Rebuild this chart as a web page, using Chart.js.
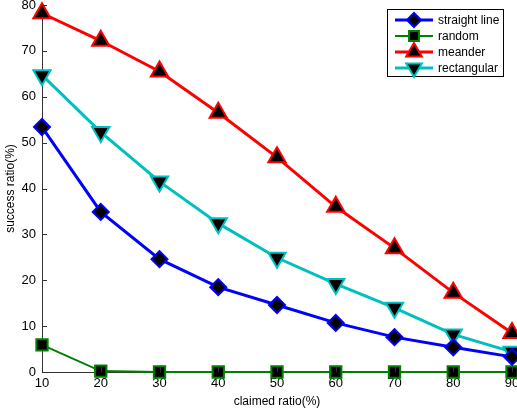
<!DOCTYPE html>
<html>
<head>
<meta charset="utf-8">
<script src="https://cdn.jsdelivr.net/npm/chart.js@4/dist/chart.umd.min.js"></script>
<style>
  html, body { margin: 0; padding: 0; background: #fff; }
  #wrap { width: 517px; height: 412px; }
</style>
</head>
<body>
<div id="wrap"><canvas id="chart"></canvas></div>
<script>
const claimed = [10, 20, 30, 40, 50, 60, 70, 80, 90];
const straightLine = [53.4, 34.9, 24.6, 18.5, 14.6, 10.7, 7.6, 5.4, 3.3];
const randomWalk = [5.9, 0.2, 0, 0, 0, 0, 0, 0, 0];
const meander = [78.2, 72.2, 65.5, 56.5, 46.8, 36.0, 27.0, 17.3, 8.5];
const rectangular = [64.7, 52.3, 41.5, 32.4, 24.9, 19.2, 14.0, 8.2, 4.4];
const yTicks = [0, 10, 20, 30, 40, 50, 60, 70, 80];

const font = 'Liberation Sans, Arial, Helvetica, sans-serif';

function series(label, values, color, style, radius, lineWidth, rotation) {
  return {
    label,
    data: values.map((v, i) => ({ x: claimed[i], y: v })),
    borderColor: color,
    backgroundColor: color,
    borderWidth: lineWidth,
    pointStyle: style,
    pointRadius: radius,
    pointHoverRadius: radius,
    pointRotation: rotation || 0,
    pointBackgroundColor: '#000',
    pointBorderColor: color,
    pointBorderWidth: 2,
    tension: 0,
    clip: false
  };
}

// MATLAB-style inward ticks
const inwardTicks = {
  id: 'inwardTicks',
  afterDatasetsDraw(chart) {
    const { ctx, chartArea: a, scales: { x, y } } = chart;
    ctx.save();
    ctx.strokeStyle = '#333';
    ctx.lineWidth = 1;
    ctx.beginPath();
    claimed.forEach((v) => {
      const px = Math.round(x.getPixelForValue(v)) + 0.5;
      ctx.moveTo(px, a.bottom);
      ctx.lineTo(px, a.bottom - 5);
    });
    yTicks.forEach((v) => {
      const py = Math.round(y.getPixelForValue(v)) + 0.5;
      ctx.moveTo(a.left, py);
      ctx.lineTo(a.left + 5, py);
    });
    ctx.stroke();
    ctx.restore();
  }
};

// legend box with line + marker samples
const matLegend = {
  id: 'matLegend',
  afterDraw(chart) {
    const { ctx } = chart;
    const bx = 387, by = 9, bw = 116, bh = 67;
    ctx.save();
    ctx.fillStyle = '#fff';
    ctx.fillRect(bx, by, bw, bh);
    ctx.strokeStyle = '#000';
    ctx.lineWidth = 1;
    ctx.strokeRect(bx + 0.5, by + 0.5, bw, bh);
    chart.data.datasets.forEach((ds, i) => {
      const cy = by + 11 + i * 16;
      ctx.strokeStyle = ds.borderColor;
      ctx.lineWidth = ds.borderWidth;
      ctx.beginPath();
      ctx.moveTo(395, cy);
      ctx.lineTo(433, cy);
      ctx.stroke();
      ctx.fillStyle = '#000';
      ctx.strokeStyle = ds.pointBorderColor;
      ctx.lineWidth = ds.pointBorderWidth;
      Chart.helpers.drawPoint(ctx, {
        pointStyle: ds.pointStyle,
        rotation: ds.pointRotation,
        radius: ds.pointRadius - 1,
        borderWidth: ds.pointBorderWidth
      }, 414, cy);
      ctx.fillStyle = '#000';
      ctx.font = '12px ' + font;
      ctx.textBaseline = 'middle';
      ctx.fillText(ds.label, 438, cy + 1);
    });
    ctx.restore();
  }
};

new Chart(document.getElementById('chart'), {
  type: 'line',
  data: {
    datasets: [
      series('straight line', straightLine, '#0000FF', 'rectRot', 8, 3),
      series('random', randomWalk, '#008000', 'rect', 8, 2),
      series('meander', meander, '#FF0000', 'triangle', 10, 3),
      series('rectangular', rectangular, '#00BFBF', 'triangle', 10, 3, 180)
    ]
  },
  options: {
    responsive: true,
    maintainAspectRatio: false,
    animation: false,
    layout: { autoPadding: false, padding: { top: 5, right: 5, left: 0, bottom: 0 } },
    plugins: { legend: { display: false }, tooltip: { enabled: false } },
    scales: {
      x: {
        type: 'linear',
        min: 10,
        max: 90,
        afterBuildTicks: (s) => { s.ticks = claimed.map((v) => ({ value: v })); },
        afterFit: (s) => { s.height = 40; s.paddingLeft = 0; s.paddingRight = 0; },
        grid: { display: false, drawTicks: false },
        border: { display: true, color: '#333', width: 1 },
        ticks: { color: '#000', padding: 4, maxRotation: 0, font: { family: font, size: 13 } },
        title: { display: true, text: 'claimed ratio(%)', color: '#000', padding: { top: 0, bottom: 3 }, font: { family: font, size: 12 } }
      },
      y: {
        min: 0,
        max: 80,
        afterBuildTicks: (s) => { s.ticks = yTicks.map((v) => ({ value: v })); },
        afterFit: (s) => { s.width = 42; s.paddingTop = 0; s.paddingBottom = 0; },
        grid: { display: false, drawTicks: false },
        border: { display: true, color: '#333', width: 1 },
        ticks: { color: '#000', padding: 6, font: { family: font, size: 13 } },
        title: { display: true, text: 'success ratio(%)', color: '#000', padding: { top: 3, bottom: 0 }, font: { family: font, size: 12 } }
      }
    }
  },
  plugins: [inwardTicks, matLegend]
});
</script>
</body>
</html>
